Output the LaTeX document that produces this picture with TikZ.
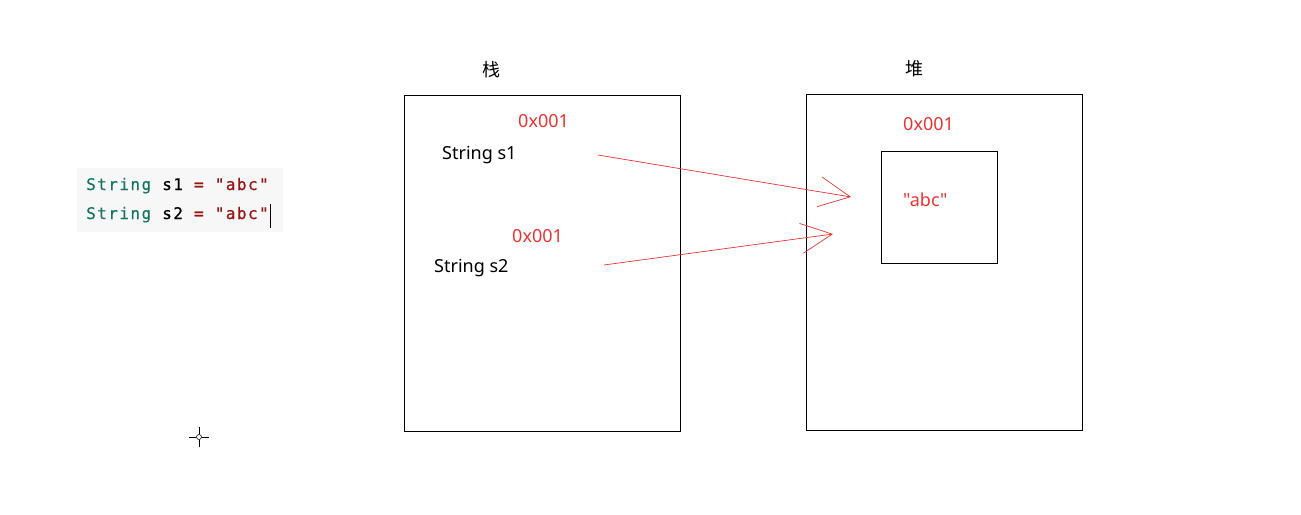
\documentclass[tikz,border=0pt]{standalone}
\usepackage{fontspec}
\setmainfont[Ligatures=TeXOff]{Noto Sans}
\newfontfamily\cjk{Noto Sans CJK SC}
\newfontfamily\codefont[LetterSpace=9,FakeBold=0.6]{DejaVu Sans Mono}
\usetikzlibrary{positioning,arrows.meta}
\definecolor{memred}{RGB}{228,52,52}
\definecolor{kwgreen}{RGB}{22,118,98}
\definecolor{strred}{RGB}{150,22,22}
\definecolor{codebg}{RGB}{247,247,247}
\tikzset{
	px/.style={x=1pt, y=-1pt},
	lab/.style={font=\cjk\fontsize{18}{20}\selectfont, anchor=base west, inner sep=0pt},
	var/.style={font=\fontsize{18}{20}\selectfont, anchor=base west, inner sep=0pt},
	addr/.style={font=\fontsize{18}{20}\selectfont, text=memred, anchor=base west, inner sep=0pt},
	code/.style={font=\codefont\fontsize{16}{18}\selectfont, anchor=base west, inner sep=0pt},
	area/.style={draw, line width=0.9pt},
	refarr/.style={draw=memred, line width=0.7pt, -{Straight Barb[length=31pt, width=30pt]}},
}
\newcommand{\kw}[1]{\textcolor{kwgreen}{#1}}
\newcommand{\str}[1]{\textcolor{strred}{#1}}
\newcommand{\dq}{\symbol{34}}

\begin{document}
\begin{tikzpicture}[px]
	\useasboundingbox (0,0) rectangle (1301,514);
	
	% ------------------- Code -------------------
	\fill[codebg] (77,168) rectangle (283,232);
	\node[code] (line1) at (86,190) {\kw{String} s1 \str{= \dq abc\dq}};
	\node[code] (line2) at (86,219) {\kw{String} s2 \str{= \dq abc\dq}};
	\draw[line width=1pt] (270,204) -- (270,228);
	
	% ------------------- Stack -------------------
	\node[lab] (labS) at (482,76) {栈};
	\draw[area] (404,95) rectangle (680,431);
	\node[addr] (a1) at (518,127) {0x001};
	\node[var] (s1) at (442,159) {String s1};
	\node[addr] (a2) at (512,242) {0x001};
	\node[var] (s2) at (434,272) {String s2};
	
	% ------------------- Heap -------------------
	\node[lab] (labH) at (905,75) {堆};
	\draw[area] (806,94) rectangle (1082,430);
	\node[addr] (ah) at (903,130) {0x001};
	\draw[area] (881,151) rectangle (997,263);
	\node[addr] (obj) at (903,206) {\dq abc\dq};
	
	% ------------------- References -------------------
	\coordinate (p1) at (598,155);
	\coordinate (t1) at (851,197);
	\coordinate (p2) at (604,265);
	\coordinate (t2) at (833,234);
	\draw[refarr] (p1) -- (t1);
	\draw[refarr] (p2) -- (t2);
	
	% mouse pointer
	\draw[line width=1pt] (189,437) -- (196,437) (202,437) -- (209,437)
		(199,427) -- (199,434) (199,440) -- (199,447);
	\draw[line width=0.6pt] (199,437) circle (2.5);
\end{tikzpicture}
\end{document}
